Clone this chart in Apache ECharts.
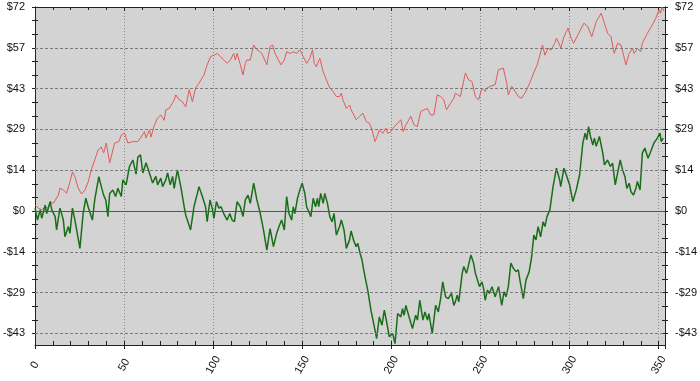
<!DOCTYPE html>
<html>
<head>
<meta charset="utf-8">
<script src="https://cdn.jsdelivr.net/npm/echarts@6/dist/echarts.min.js"></script>
<style>html,body{margin:0;padding:0;background:#fff}#c{width:700px;height:381px}</style>
</head>
<body>
<div id="c"></div>
<script>
const yTickValues = [-43.2, -28.8, -14.4, 0, 14.4, 28.8, 43.2, 57.6, 72];
const yTickLabels = ['-$43', '-$29', '-$14', '$0', '$14', '$29', '$43', '$57', '$72'];
const yGridValues = [-43.2, -28.8, -14.4, 14.4, 28.8, 43.2, 57.6];
const xTickValues = [0, 50, 100, 150, 200, 250, 300, 350];

const red = [
[0,2.1],[2,1.0],[3.8,0.4],[5.7,1.4],[7.5,1.0],[8.5,3.3],[10.3,2.7],[13.1,5.6],[14,8.1],[15.9,7.4],[17.7,6.3],[19.6,10.2],[21,13.8],[22.4,12.1],[24.2,8.1],[26.1,6.0],[28,7.4],[29.8,10.2],[31.6,14.5],[33.5,18],[35.4,21.5],[37.2,22.6],[38.5,20.5],[40,24],[41.9,17],[44.7,24],[47.1,24.5],[48.4,26.8],[50.2,27.5],[52.1,24],[54.9,24.5],[57.7,24.5],[59.5,26.1],[61.4,28],[62.3,25.8],[64.2,28.6],[65.1,26.1],[67,30.4],[68.8,32.8],[70.6,33.9],[72.5,32],[73.4,35.7],[75.3,36.2],[76.2,35.7],[78.1,39.2],[79,41],[80.9,39.2],[82.7,38.6],[84.6,36.7],[86.5,42.8],[88.3,38.6],[90.1,43.4],[92,45.1],[94.8,48],[96.6,51.6],[98.5,54.5],[100.4,55],[102.2,55.6],[104.1,54.5],[105.9,53.3],[107.8,52.1],[109.6,53.3],[111.5,55.6],[112.4,53.3],[113.4,55.6],[115.2,51.6],[116.7,48],[118,52.1],[118.9,53.3],[120.8,53.3],[122.7,58.6],[124.5,56.9],[126.4,56.2],[127.7,55],[130.1,51.6],[131.9,58],[133.3,58.6],[134.7,55.6],[136.6,53.3],[138,51.6],[139.9,53.3],[141.2,56.2],[143.1,55.6],[145,56.2],[146.8,55.6],[148.6,56.9],[150.5,54.5],[152.4,52.1],[154.2,53.9],[155.7,56.9],[156.7,52.1],[157.9,50.9],[159.8,53.9],[161.7,49.2],[163.5,46.3],[165.4,43.4],[167.2,42.2],[169.1,40.4],[170.9,40.4],[171.9,41.6],[172.8,39.2],[174.7,36.2],[176.5,37.4],[177.4,35.7],[178.4,34.5],[180.2,32.2],[182.1,33.4],[184,34.5],[185.8,31.6],[187.6,31],[189.1,28.6],[190.8,24.5],[192.3,26.8],[193.2,28.6],[195.1,27.4],[196.9,29.2],[197.9,27.4],[199.7,28],[201.6,29.8],[203.5,31],[205.3,32.2],[206.6,28],[208.1,30.4],[210.9,33.4],[212.7,30.4],[214.6,29.8],[216.4,35.1],[218.3,35.7],[220.2,36.2],[222,33.9],[223.8,33.9],[225.7,41],[227.6,40.4],[229.4,39.2],[230.9,35.7],[233.1,38],[235,39.8],[235.9,41.6],[236.9,42.2],[238.7,40.4],[241.5,48.7],[243.3,46.3],[245.2,45.7],[247.1,40.4],[248.9,39.2],[250.8,43.4],[252.6,42.2],[253.6,43.4],[255.4,44],[258.2,44.6],[260,49.8],[261,49.8],[262.8,50.4],[264.7,45.1],[265.6,41],[267.5,44],[269.4,42.2],[271.2,40.4],[273.1,39.8],[274.9,41.6],[276.8,44],[278.7,46.9],[280.5,49.8],[281.8,51.6],[283.3,55],[284.8,58.6],[286.1,55],[287.9,57.4],[289.8,56.9],[291.6,59.2],[292.6,61],[294.4,58.6],[295,57.4],[296.8,61.5],[299.1,64.5],[300.9,61],[302.2,59.2],[304.6,62.1],[308,66.3],[310.2,65.1],[312.4,61.5],[314.9,66.8],[317.7,69.8],[319.5,66.3],[321.3,62.7],[323.2,61.5],[325,55.6],[326.9,59.2],[328.8,58.6],[331.6,51.6],[333.4,55.6],[335.3,57.4],[336.2,55.6],[338,57.4],[339.9,56.2],[340.8,59.2],[343.6,62.7],[346.4,65.7],[348.3,68],[350.1,71],[351,69.8],[351.9,72],[353,70.5]
];

const green = [
[0,1],[1.4,-3.2],[2.9,0.4],[3.8,-2.6],[5.7,2.1],[6.6,-0.9],[8.5,3.3],[9.4,0.4],[11.3,-2],[12.1,-6.7],[14,1],[15.9,-3.2],[16.8,-9.1],[18.7,-5.5],[19.6,-7.9],[21,1],[22.4,-3.2],[23.7,-7.9],[25.2,-13.2],[27,-0.9],[28.5,4.5],[29.8,1.5],[32.2,-3.2],[33.5,3.9],[35.8,12.1],[37.2,8.6],[38.5,5.6],[39.7,3.9],[40.9,-2],[41.9,6.2],[43.7,7.4],[45.2,5.1],[46.5,8],[48.4,5.1],[49.3,11],[51.1,9.2],[53,15.7],[54.9,18],[56.7,13],[57.7,19],[59.2,19.8],[60.5,13.4],[62.3,17],[64.2,13.4],[66,9.9],[67.8,12.2],[68.8,9.2],[70.6,11.6],[71.6,8.6],[73.4,11],[74.4,13.4],[75.9,9.2],[77.2,12.2],[78.1,8],[79.9,14.5],[81.8,8.6],[83.7,1.5],[84.6,-1.5],[85.5,-2],[87.3,-6.7],[89.2,1.5],[91.1,6.2],[92,8.6],[93.9,5.1],[95.7,1.5],[96.6,-3.8],[98.2,3.9],[99.4,1],[100.4,-2.6],[101.8,3.3],[103.2,1],[104.4,1.5],[105.9,-0.9],[106.8,-0.3],[107.8,-3.2],[109.3,-0.9],[110.6,-3.2],[111.9,-3.8],[113.4,3.3],[115.2,1.5],[116.7,-2],[118,3.9],[119.5,5.6],[120.8,2.7],[122.7,9.8],[124.5,3.9],[126.4,-0.9],[128.2,-6.7],[130.1,-13.8],[131.9,-6.2],[133.8,-12.6],[135.6,-7.9],[136.9,-5.5],[138.4,-3.2],[139.9,-6.7],[141.2,5.1],[142.5,-0.9],[144,-3.2],[144.9,1.5],[145.8,-0.9],[147.3,4.5],[148.6,7.4],[149.9,9.8],[151.4,6.2],[152.4,1.5],[153.3,1],[154.8,-2],[156.1,4.5],[157.4,1.5],[158.5,4.5],[159.2,1.5],[160.3,6.2],[161.7,2.7],[162.6,6.2],[164.1,2.7],[165.4,-2],[166.7,-3.8],[167.8,-0.9],[169.1,-8.5],[170.9,-5.5],[171.9,-3.2],[173.4,-6.7],[174.7,-13.2],[176.5,-10.2],[177.4,-7],[178.7,-10.2],[180.2,-12.6],[181.1,-11.4],[182.4,-14.9],[183.5,-17.3],[184.8,-22],[186.7,-27.9],[188.5,-35],[190.4,-40.9],[191.7,-45],[193.2,-37.4],[194.7,-40.3],[196,-35],[197.3,-39.1],[198.8,-44.4],[200.7,-43.2],[202,-46.8],[203.5,-36.2],[205.3,-37.4],[206.2,-34.5],[207.1,-36.8],[208.1,-33.3],[209.9,-37.4],[211.8,-41.5],[213.6,-36.8],[214.6,-38.5],[215.9,-31.5],[217.7,-38.5],[218.8,-35.6],[220.2,-38.5],[221,-36.2],[222.9,-43.2],[224.8,-33.3],[226.3,-35.6],[227.6,-30.9],[228.8,-25],[230.4,-30.3],[231.9,-30.9],[233.7,-29.1],[235,-33.3],[235.9,-32],[236.9,-29.7],[237.8,-32.1],[239.7,-22],[240.6,-19.6],[242.1,-22],[243.3,-19],[244.6,-15.5],[246.1,-18.4],[247.1,-22],[248,-21.4],[249.4,-26.7],[250.8,-25],[251.7,-27.3],[252.6,-31.5],[253.9,-27.9],[255,-29.1],[256.4,-26.7],[258.2,-30.3],[260.1,-26.7],[261.9,-33.3],[263.2,-28.5],[264.3,-30.3],[265.6,-26.7],[267,-18.4],[268.4,-20.2],[269.9,-21.4],[271.2,-20.8],[272.1,-24.4],[274,-30.9],[275.5,-24.4],[277.3,-21.4],[278.7,-16.1],[279.9,-8.5],[281.1,-10.2],[282.3,-5.5],[283.7,-9.1],[285.1,-3.8],[286.1,-5.5],[287.3,-2],[288.9,0.4],[290.7,8.6],[292.6,15.1],[294.4,11],[295,8.6],[296.8,15.1],[298.1,12.8],[299.1,13.4],[300,9.2],[301.8,3.3],[303.7,7.4],[305.6,12.8],[307.4,24],[308.7,27.5],[309.6,25.1],[310.6,29.8],[311.7,26.3],[313,23.3],[313.9,25.7],[314.9,22.8],[316.7,26.3],[318.6,20.4],[319.5,16.3],[321.3,18],[322.8,15.7],[324.1,16.9],[325.6,9.2],[326.9,13.4],[328.4,18],[329.7,14.5],[331,12.2],[332.1,8],[333.4,9.8],[334.4,6.8],[335.8,5.6],[337.2,8],[338,10.4],[339.5,7.4],[340.8,20.4],[342.2,22.2],[344,18.6],[345.5,21],[347.3,24],[349.2,25.7],[350.7,27.5],[351.4,24.5],[352.5,25.7]
];

const Y_MIN = -47.3, Y_MAX = 72, X_MIN = 0, X_MAX = 353.5;
const allYTicks = [];
for (let k = 0; k <= 24; k++) allYTicks.push(Math.round((-43.2 + 4.8 * k) * 10) / 10);

function yLabel(v) {
  let best = 0, d = Infinity;
  yTickValues.forEach((t, i) => { if (Math.abs(t - v) < d) { d = Math.abs(t - v); best = i; } });
  return yTickLabels[best];
}
const FONT = 'Liberation Sans, Arial, sans-serif';
const AXC = '#222';

function yAx(pos, inside, labels) {
  return {
    type: 'value', position: pos, min: Y_MIN, max: Y_MAX,
    axisLine: { show: true, onZero: false, lineStyle: { color: AXC, width: 1 } },
    axisTick: { show: true, inside: inside, length: 3, customValues: allYTicks, lineStyle: { color: AXC } },
    axisLabel: labels ? { show: true, customValues: yTickValues, formatter: yLabel, fontSize: 11, fontFamily: FONT, color: '#111', margin: 10 } : { show: false },
    splitLine: { show: false }
  };
}
function xAx(pos, inside, opts) {
  return Object.assign({
    type: 'value', position: pos, min: X_MIN, max: X_MAX, interval: 50,
    axisLine: { show: true, onZero: false, lineStyle: { color: AXC, width: 1 } },
    axisTick: { show: true, inside: inside, length: 4, lineStyle: { color: AXC } },
    minorTick: { show: false },
    axisLabel: { show: false },
    splitLine: { show: false }
  }, opts);
}

const chart = echarts.init(document.getElementById('c'), null, { renderer: 'canvas' });
chart.setOption({
  animation: false,
  backgroundColor: '#fff',
  grid: { left: 32, top: 7, width: 634, height: 338, show: true, backgroundColor: '#d3d3d3', borderWidth: 0 },
  xAxis: [
    xAx('bottom', true, {
      minorTick: { show: true, splitNumber: 5, length: 4, lineStyle: { color: AXC } },
      splitLine: { show: true, lineStyle: { color: '#8a8a8a', type: [1, 2], width: 1 } }
    }),
    xAx('bottom', false, {
      axisLine: { show: false, onZero: false },
      axisTick: { show: true, inside: false, length: 4, lineStyle: { color: AXC } },
      axisLabel: { show: true, rotate: 60, margin: 20, align: 'center', verticalAlign: 'middle', fontSize: 11, fontFamily: FONT, color: '#111',
        customValues: xTickValues }
    }),
    xAx('top', true, {
      minorTick: { show: true, splitNumber: 5, length: 3, lineStyle: { color: AXC } }
    })
  ],
  yAxis: [
    yAx('left', false, true),
    yAx('left', true, false),
    yAx('right', false, true),
    yAx('right', true, false)
  ],
  series: [
    {
      type: 'line', name: 'grid', data: [], z: 1, silent: true,
      markLine: {
        silent: true, symbol: 'none', label: { show: false }, animation: false,
        data: yGridValues.map(v => ({ yAxis: v, lineStyle: { color: '#7a7a7a', type: [3, 2], width: 1 } }))
          .concat([{ yAxis: 0, lineStyle: { color: '#555', type: 'solid', width: 1 } }])
      }
    },
    {
      type: 'line', name: 'red', data: red, showSymbol: false, symbol: 'none', z: 3,
      lineStyle: { color: '#e05a5a', width: 1 }
    },
    {
      type: 'line', name: 'green', data: green, showSymbol: false, symbol: 'none', z: 4,
      lineStyle: { color: '#1a6e1a', width: 1.5 }
    }
  ]
});
</script>
</body>
</html>
